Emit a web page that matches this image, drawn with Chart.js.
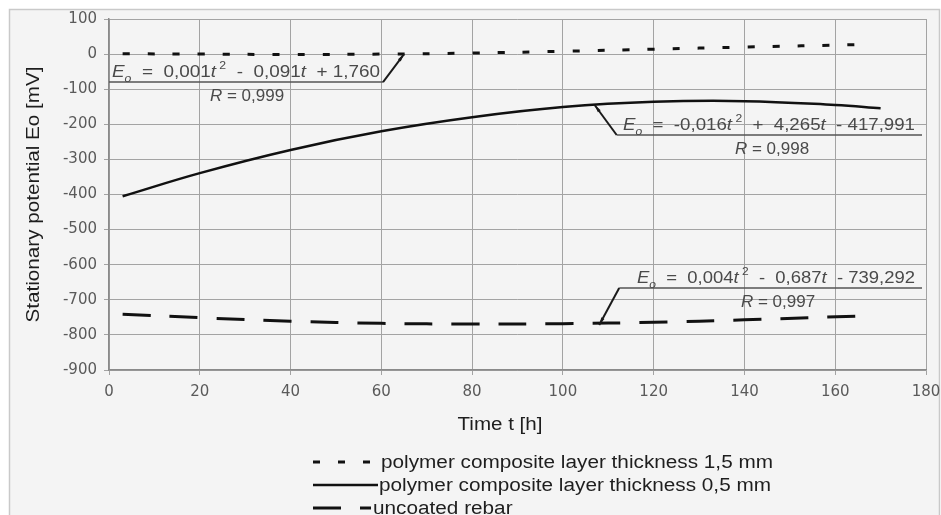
<!DOCTYPE html>
<html>
<head>
<meta charset="utf-8">
<title>Stationary potential</title>
<script src="https://cdn.jsdelivr.net/npm/chart.js@4.4.1/dist/chart.umd.min.js"></script>
<style>
  html, body { margin: 0; padding: 0; background: #fff; }
  #wrap { width: 941px; height: 515px; }
</style>
</head>
<body>
<div id="wrap"><canvas id="chart" width="941" height="515"></canvas></div>
<script>
// measured potentials, time in hours
var time15 = [3, 20, 40, 60, 80, 100, 120, 140, 165];
var eo15   = [1, 0, -1, 0, 3, 8, 14, 20, 27];

var time05 = [3, 20, 40, 60, 80, 100, 120, 140, 160, 170];
var eo05   = [-405, -339, -273, -220, -180, -151, -136, -134, -145, -154];

var timeBare = [3, 20, 40, 60, 80, 100, 120, 140, 168];
var eoBare   = [-741, -751, -761, -767, -769, -768, -764, -757, -745];

var seriesLabels = [
	'polymer composite layer thickness 1,5 mm',
	'polymer composite layer thickness 0,5 mm',
	'uncoated rebar'
];

// regression labels: leader tip sits on the curve at [t, Eo]
var fits = [
	{ tip: [65, 0],    eq: ['0,001', '0,091', '+ 1,760'],   r: '0,999' },
	{ tip: [107, -145], eq: ['-0,016', '4,265', '- 417,991'], r: '0,998', plus: true },
	{ tip: [108, -772], eq: ['0,004', '0,687', '- 739,292'], r: '0,997' }
];

function toPoints(xs, ys) {
	return xs.map(function(x, i) { return { x: x, y: ys[i] }; });
}

var FONT = "'Liberation Sans', Arial, sans-serif";

// draw pieces of text (italic / sub / sup) stretched to a given width
function drawRich(ctx, pieces, x, y, size, width, align) {
	var w = 0;
	pieces.forEach(function(p) {
		var s = p.sub || p.sup ? size * 0.65 : size;
		ctx.font = (p.it ? 'italic ' : '') + s + 'px ' + FONT;
		p.w = ctx.measureText(p.t).width;
		p.s = s;
		w += p.w;
	});
	var k = width ? width / w : 1;
	var start = x;
	if (align === 'center') start = x - w * k / 2;
	ctx.save();
	ctx.translate(start, y);
	ctx.scale(k, 1);
	ctx.textBaseline = 'alphabetic';
	ctx.textAlign = 'left';
	var cx = 0;
	pieces.forEach(function(p) {
		ctx.font = (p.it ? 'italic ' : '') + p.s + 'px ' + FONT;
		var dy = p.sub ? size * 0.3 : (p.sup ? -size * 0.45 : 0);
		ctx.fillText(p.t, cx, dy);
		cx += p.w;
	});
	ctx.restore();
	return w * k;
}

function eqPieces(f) {
	return [
		{ t: 'E', it: true }, { t: 'o', it: true, sub: true },
		{ t: '  =  ' + f.eq[0] }, { t: 't', it: true }, { t: ' 2', sup: true },
		{ t: (f.plus ? '  +  ' : '  -  ') + f.eq[1] }, { t: 't', it: true },
		{ t: '  ' + f.eq[2] }
	];
}

function rPieces(f) {
	return [{ t: 'R', it: true }, { t: ' = ' + f.r }];
}

var framePlugin = {
	id: 'frame',
	beforeDraw: function(chart) {
		var ctx = chart.ctx;
		ctx.save();
		ctx.fillStyle = '#ffffff';
		ctx.fillRect(0, 0, chart.width, chart.height);
		ctx.fillStyle = '#f4f4f4';
		ctx.fillRect(9, 9, 931, 520);
		ctx.strokeStyle = '#c9c9c9';
		ctx.lineWidth = 1.5;
		ctx.strokeRect(9.5, 9.5, 930, 520);
		ctx.restore();
	}
};

var fitPlugin = {
	id: 'fits',
	afterDatasetsDraw: function(chart) {
		var ctx = chart.ctx;
		var xs = chart.scales.x, ys = chart.scales.y;
		// pixel layout of each label relative to its elbow
		var lay = [
			{ elbow: [-21, 28], lineTo: 109, text: [112, 268], r: 247 },
			{ elbow: [22, 30], lineTo: 922, text: [623, 292], r: 772 },
			{ elbow: [20, -37], lineTo: 922, text: [637, 278], r: 778 }
		];
		ctx.save();
		fits.forEach(function(f, i) {
			var L = lay[i];
			var tx = xs.getPixelForValue(f.tip[0]);
			var ty = ys.getPixelForValue(f.tip[1]);
			var ex = tx + L.elbow[0], ey = ty + L.elbow[1];

			ctx.strokeStyle = '#555';
			ctx.lineWidth = 1.5;
			ctx.beginPath();
			ctx.moveTo(ex, ey);
			ctx.lineTo(L.lineTo, ey);
			ctx.stroke();

			ctx.strokeStyle = '#1a1a1a';
			ctx.lineWidth = 2;
			ctx.beginPath();
			ctx.moveTo(ex, ey);
			ctx.lineTo(tx, ty);
			ctx.stroke();
			// small wedge where the leader meets the curve
			var a = Math.atan2(ty - ey, tx - ex);
			ctx.fillStyle = '#1a1a1a';
			ctx.beginPath();
			ctx.moveTo(tx, ty);
			ctx.lineTo(tx - 8 * Math.cos(a - 0.22), ty - 8 * Math.sin(a - 0.22));
			ctx.lineTo(tx - 8 * Math.cos(a + 0.22), ty - 8 * Math.sin(a + 0.22));
			ctx.closePath();
			ctx.fill();

			ctx.fillStyle = '#4a4a4a';
			drawRich(ctx, eqPieces(f), L.text[0], ey - 5, 17, L.text[1]);
			drawRich(ctx, rPieces(f), L.r, ey + 19, 17, 0, 'center');
		});
		ctx.restore();
	}
};

var textPlugin = {
	id: 'texts',
	afterDraw: function(chart) {
		var ctx = chart.ctx;
		var area = chart.chartArea;
		ctx.save();
		ctx.fillStyle = '#1e1e1e';

		// y axis title
		ctx.save();
		ctx.translate(33, (area.top + area.bottom) / 2);
		ctx.rotate(-Math.PI / 2);
		drawRich(ctx, [{ t: 'Stationary potential Eo [mV]' }], 0, 6, 18, 256, 'center');
		ctx.restore();

		// x axis title
		drawRich(ctx, [{ t: 'Time t [h]' }], 500, 430, 18, 85, 'center');

		// legend
		var rows = [462, 485, 508];
		var k = null;
		chart.data.datasets.forEach(function(ds, i) {
			var y = rows[i];
			ctx.save();
			ctx.strokeStyle = '#111';
			ctx.lineWidth = ds.borderWidth;
			ctx.setLineDash(ds.borderDash || []);
			ctx.beginPath();
			ctx.moveTo(313, y);
			ctx.lineTo(i === 1 ? 378 : (i === 0 ? 376 : 371), y);
			ctx.stroke();
			ctx.restore();

			ctx.font = '18px ' + FONT;
			var w = ctx.measureText(ds.label).width;
			if (k === null) k = 392 / w;
			var x0 = i === 2 ? 373 : (i === 1 ? 379 : 381);
			drawRich(ctx, [{ t: ds.label }], x0, y + 6, 18, w * k);
		});
		ctx.restore();
	}
};

var ctx = document.getElementById('chart').getContext('2d');
var myChart = new Chart(ctx, {
	type: 'line',
	data: {
		datasets: [
			{
				label: seriesLabels[0],
				data: toPoints(time15, eo15),
				borderColor: '#111',
				borderWidth: 3,
				borderDash: [7, 18],
				pointRadius: 0,
				tension: 0.4
			},
			{
				label: seriesLabels[1],
				data: toPoints(time05, eo05),
				borderColor: '#111',
				borderWidth: 2.5,
				pointRadius: 0,
				tension: 0.4
			},
			{
				label: seriesLabels[2],
				data: toPoints(timeBare, eoBare),
				borderColor: '#111',
				borderWidth: 3,
				borderDash: [28, 19],
				pointRadius: 0,
				tension: 0.4
			}
		]
	},
	options: {
		responsive: false,
		animation: false,
		layout: { padding: { top: 19, right: 0, left: 0, bottom: 0 } },
		plugins: {
			legend: { display: false },
			tooltip: { enabled: false }
		},
		scales: {
			x: {
				type: 'linear',
				min: 0,
				max: 180,
				ticks: {
					stepSize: 20,
					padding: 8,
					color: '#5a5a5a',
					font: { family: 'DejaVu Sans', size: 15 }
				},
				grid: { color: '#a3a3a3', lineWidth: 1, tickLength: 5 },
				border: { color: '#8a8a8a', width: 1.5 },
				afterFit: function(scale) {
					scale.height = 145;
					scale.paddingRight = 15;
				}
			},
			y: {
				min: -900,
				max: 100,
				ticks: {
					stepSize: 100,
					padding: 7,
					color: '#5a5a5a',
					font: { family: 'DejaVu Sans', size: 15 }
				},
				grid: { color: '#a3a3a3', lineWidth: 1, tickLength: 5 },
				border: { color: '#8a8a8a', width: 1.5 },
				afterFit: function(scale) { scale.width = 109; }
			}
		}
	},
	plugins: [framePlugin, fitPlugin, textPlugin]
});
</script>
</body>
</html>
